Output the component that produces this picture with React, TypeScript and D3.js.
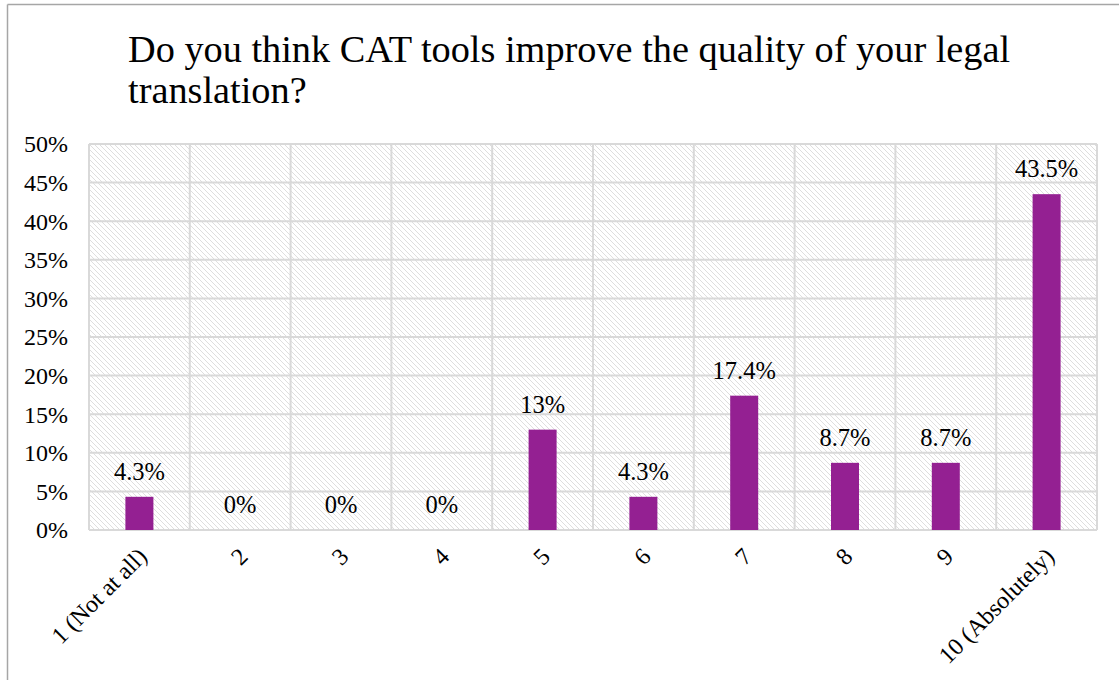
import React from "react";
import * as d3 from "d3";

const categories = ["1 (Not at all)", "2", "3", "4", "5", "6", "7", "8", "9", "10 (Absolutely)"];
const values = [4.3, 0, 0, 0, 13, 4.3, 17.4, 8.7, 8.7, 43.5];
const valueLabels = ["4.3%", "0%", "0%", "0%", "13%", "4.3%", "17.4%", "8.7%", "8.7%", "43.5%"];
const yTicks = [0, 5, 10, 15, 20, 25, 30, 35, 40, 45, 50];
const titleLines = ["Do you think CAT tools improve the quality of your legal", "translation?"];

const W = 1119;
const H = 680;
const plot = { left: 89, right: 1097, top: 144, bottom: 530 };
const FONT = "Liberation Serif";

export default function App() {
  const x = d3.scaleBand<string>().domain(categories).range([plot.left, plot.right]).paddingInner(0).paddingOuter(0);
  const y = d3.scaleLinear().domain([0, 50]).range([plot.bottom, plot.top]);
  const bw = x.bandwidth();
  const barW = 28;
  const ts = (size: number) => ({ fontFamily: FONT, fontSize: size + "px" });

  return (
    <svg width={W} height={H} style={{ position: "absolute", left: 0, top: 0, background: "#fff" }}>
      <defs>
        <pattern id="hatch" patternUnits="userSpaceOnUse" width="5" height="5">
          <rect width="5" height="5" fill="#fff" />
          <path d="M0,0 L5,5 M-1,4 L1,6 M4,-1 L6,1" stroke="#dedede" strokeWidth="1" />
        </pattern>
      </defs>
      <line x1={7.5} y1={4.5} x2={W} y2={4.5} stroke="#a6a6a6" strokeWidth={1.5} />
      <line x1={7.5} y1={4.5} x2={7.5} y2={H} stroke="#a6a6a6" strokeWidth={1.5} />

      <text style={ts(38.3)} fill="#000">
        {titleLines.map((t, i) => (
          <tspan key={i} x={128} y={62 + i * 41}>{t}</tspan>
        ))}
      </text>

      <rect x={plot.left} y={plot.top} width={plot.right - plot.left} height={plot.bottom - plot.top} fill="url(#hatch)" />

      {yTicks.map((t) => (
        <line key={"h" + t} x1={plot.left} x2={plot.right} y1={y(t)} y2={y(t)} stroke="#d9d9d9" strokeWidth={2} />
      ))}
      {categories.map((c) => (
        <line key={"v" + c} x1={x(c)!} x2={x(c)!} y1={plot.top} y2={plot.bottom} stroke="#d9d9d9" strokeWidth={2} />
      ))}
      <line x1={plot.right} x2={plot.right} y1={plot.top} y2={plot.bottom} stroke="#d9d9d9" strokeWidth={2} />

      {categories.map((c, i) => (
        <rect key={"b" + c} x={x(c)! + bw / 2 - barW / 2} y={y(values[i])} width={barW} height={plot.bottom - y(values[i])} fill="#942092" />
      ))}

      {categories.map((c, i) => (
        <text key={"l" + c} x={x(c)! + bw / 2} y={y(values[i]) - 17} textAnchor="middle" style={ts(24.5)} fill="#000">
          {valueLabels[i]}
        </text>
      ))}

      {yTicks.map((t) => (
        <text key={"t" + t} x={68} y={y(t)} dy="0.35em" textAnchor="end" style={ts(24)} fill="#000">
          {t + "%"}
        </text>
      ))}

      {categories.map((c) => {
        const ax = x(c)! + bw / 2 + 3;
        const ay = 552;
        return (
          <text key={"c" + c} transform={`translate(${ax},${ay}) rotate(-45)`} dy="0.35em" textAnchor="end" style={ts(24)} fill="#000">
            {c}
          </text>
        );
      })}
    </svg>
  );
}
